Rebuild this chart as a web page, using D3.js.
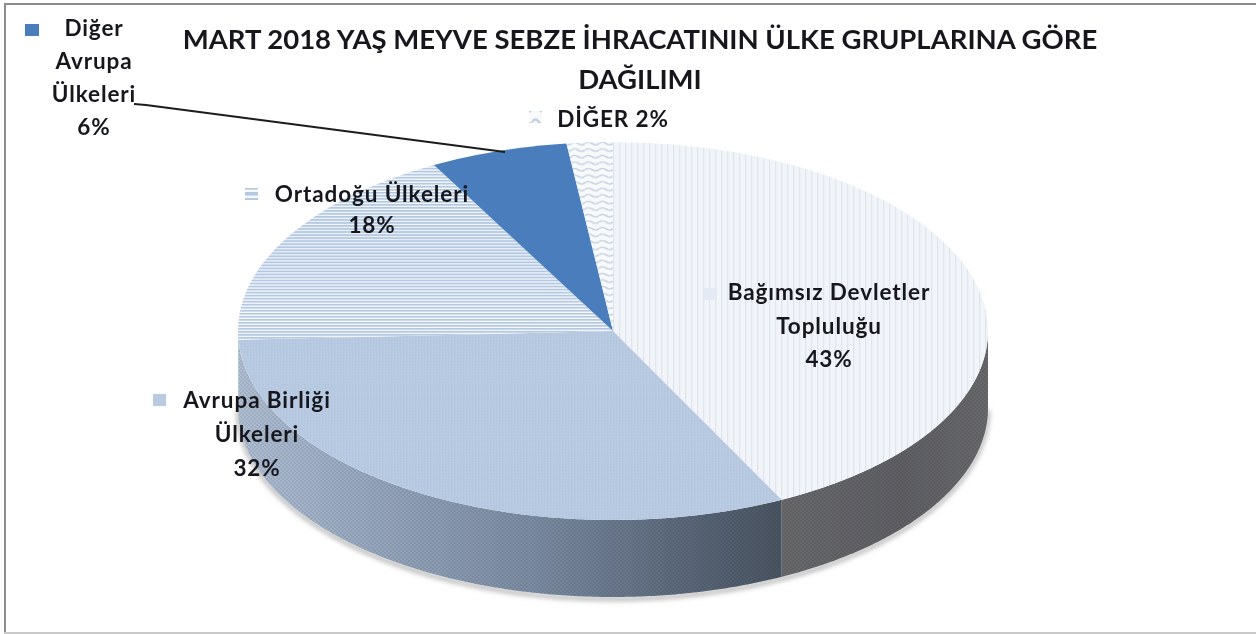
<!DOCTYPE html>
<html><head><meta charset="utf-8">
<script src="https://cdn.jsdelivr.net/npm/d3@7"></script>
<style>html,body{margin:0;padding:0;background:#fff}svg{display:block}text{font-family:Lato,"Open Sans",sans-serif}</style>
</head><body><svg id="c" width="1256" height="634"></svg>
<script>
const categories=["Bağımsız Devletler Topluluğu","Avrupa Birliği Ülkeleri","Ortadoğu Ülkeleri","Diğer Avrupa Ülkeleri","DİĞER"];
const values=[43,32,18,6,2];
const titleLines=["MART 2018 YAŞ MEYVE SEBZE İHRACATININ ÜLKE GRUPLARINA GÖRE","DAĞILIMI"];
const labelLines=[["Bağımsız Devletler","Topluluğu","43%"],["Avrupa Birliği","Ülkeleri","32%"],["Ortadoğu Ülkeleri","18%"],["Diğer","Avrupa","Ülkeleri","6%"],["DİĞER 2%"]];
const labelPos=[[829,300],[257,408],[372,202],[94,36],[613,127]];
const labelGap=[33.5,34,31,33,0];
const keyPos=[[711,294],[160,400],[252,194],[32,30],[536,117]];
const W=1256,H=634,cx=613,cy=331,rx=375,ry=189,depth=77;
const svg=d3.select("#c");
const defs=svg.append("defs");
defs.append("filter").attr("id","soft").append("feGaussianBlur").attr("stdDeviation",0.55);
defs.append("filter").attr("id","softText").append("feGaussianBlur").attr("stdDeviation",0.7);
defs.append("filter").attr("id","shadow").attr("x","-10%").attr("y","-10%").attr("width","120%").attr("height","120%").append("feGaussianBlur").attr("stdDeviation",2.5);
const pv=defs.append("pattern").attr("id","pv").attr("width",6).attr("height",4).attr("patternUnits","userSpaceOnUse");
pv.append("rect").attr("width",6).attr("height",4).attr("fill","#f1f4f8");
pv.append("rect").attr("width",1.2).attr("height",4).attr("fill","#dfe6f0");
const ph=defs.append("pattern").attr("id","ph").attr("width",4).attr("height",6).attr("patternUnits","userSpaceOnUse");
ph.append("rect").attr("width",4).attr("height",6).attr("fill","#f6f9fc");
ph.append("rect").attr("width",4).attr("height",3.6).attr("fill","#b4c8e2");
const pw=defs.append("pattern").attr("id","pw").attr("width",14).attr("height",13).attr("patternUnits","userSpaceOnUse");
pw.append("rect").attr("width",14).attr("height",13).attr("fill","#f7f9fb");
pw.append("path").attr("d","M0 5 Q3.5 0 7 5 T14 5").attr("fill","none").attr("stroke","#c3d0e2").attr("stroke-width",2.4);
const pa=defs.append("pattern").attr("id","pa").attr("width",3).attr("height",3).attr("patternUnits","userSpaceOnUse");
pa.append("rect").attr("width",3).attr("height",3).attr("fill","#b9cbe3");
pa.append("rect").attr("width",1.4).attr("height",1.4).attr("fill","#b1c4dd");
const pd=defs.append("pattern").attr("id","pd").attr("width",4).attr("height",4).attr("patternUnits","userSpaceOnUse");
pd.append("rect").attr("width",2).attr("height",2).attr("fill","#000").attr("opacity",0.07);
pd.append("rect").attr("x",2).attr("y",2).attr("width",2).attr("height",2).attr("fill","#000").attr("opacity",0.07);
const gA=defs.append("linearGradient").attr("id","sa").attr("gradientUnits","userSpaceOnUse").attr("x1",cx-rx).attr("x2",cx+165).attr("y1",0).attr("y2",0);
[[0,"#aebdd2"],[0.2,"#9aabc1"],[0.55,"#7a8ba1"],[0.85,"#586576"],[1,"#4a5563"]].forEach(s=>gA.append("stop").attr("offset",s[0]).attr("stop-color",s[1]));
const gB=defs.append("linearGradient").attr("id","sb").attr("gradientUnits","userSpaceOnUse").attr("x1",cx+160).attr("x2",cx+rx).attr("y1",0).attr("y2",0);
[[0,"#68696c"],[0.6,"#5f6064"],[1,"#67686b"]].forEach(s=>gB.append("stop").attr("offset",s[0]).attr("stop-color",s[1]));
const fills=["url(#pv)","url(#pa)","url(#ph)","#4a7dbb","url(#pw)"];
const sideFills=["url(#sb)","url(#sa)"];
const keyFills=["#e4eaf3","#b8cbe3","url(#ph)","#4a7dbb","url(#pw)"];

svg.append("line").attr("x1",5).attr("x2",5).attr("y1",3).attr("y2",632).attr("stroke","#8c8c8c").attr("stroke-width",2);
svg.append("line").attr("x1",4).attr("x2",W).attr("y1",4).attr("y2",4).attr("stroke","#8c8c8c").attr("stroke-width",2);
svg.append("line").attr("x1",4).attr("x2",W).attr("y1",633).attr("y2",633).attr("stroke","#c9c9c9").attr("stroke-width",2);

const slices=d3.pie().sort(null).value(d=>d).startAngle(0).endAngle(2*Math.PI)(values);
const px=a=>cx+rx*Math.sin(a), py=a=>cy-ry*Math.cos(a);
const chart=svg.append("g").attr("filter","url(#soft)");

// soft rim shadow below the side wall
const rim=d3.range(Math.PI/2,3*Math.PI/2+0.001,0.02);
const rimLine=d3.line().x(a=>px(a)).y(a=>py(a)+depth+2);
chart.append("path").attr("d",rimLine(rim)).attr("fill","none").attr("stroke","#9a9a9a").attr("stroke-width",3).attr("filter","url(#shadow)");

// side wall: only the front half of the ellipse shows
slices.forEach((s,i)=>{
  const a0=Math.max(s.startAngle,Math.PI/2),a1=Math.min(s.endAngle,3*Math.PI/2);
  if(a1<=a0) return;
  const as=d3.range(a0,a1,0.01).concat([a1]);
  const area=d3.area().x(a=>px(a)).y0(a=>py(a)).y1(a=>py(a)+depth);
  chart.append("path").attr("d",area(as)).attr("fill",sideFills[Math.min(i,1)]);
  chart.append("path").attr("d",area(as)).attr("fill","url(#pd)");
});

// top face: an arc squashed into the ellipse
const arc=d3.arc().innerRadius(0).outerRadius(rx);
const face=chart.append("g").attr("transform",`translate(${cx},${cy}) scale(1,${ry/rx})`);
face.selectAll("path").data(slices).join("path").attr("d",arc).attr("fill",(d,i)=>fills[i]);

// leader line
chart.append("polyline").attr("points","134,104 146,105 505,152").attr("fill","none").attr("stroke","#1c1c1c").attr("stroke-width",2);

// title
const tg=svg.append("g").attr("filter","url(#softText)");
tg.selectAll("text").data(titleLines).join("text").attr("x",640).attr("y",(d,i)=>49+i*40)
  .attr("text-anchor","middle").attr("font-size",27.5).attr("font-weight",700).attr("fill","#17191c").text(d=>d);

// legend keys and data labels
const lg=svg.append("g").attr("filter","url(#softText)");
keyPos.forEach((p,i)=>lg.append("rect").attr("x",p[0]-7).attr("y",p[1]-6).attr("width",i===3?14:13).attr("height",12).attr("fill",keyFills[i]));
labelLines.forEach((lines,i)=>{
  const t=lg.append("text").attr("text-anchor","middle").attr("font-size",22.5).attr("letter-spacing",0.9).attr("font-weight",700).attr("fill","#15191e");
  lines.forEach((l,j)=>t.append("tspan").attr("x",labelPos[i][0]).attr("y",labelPos[i][1]+j*labelGap[i]).text(l));
});
</script></body></html>
